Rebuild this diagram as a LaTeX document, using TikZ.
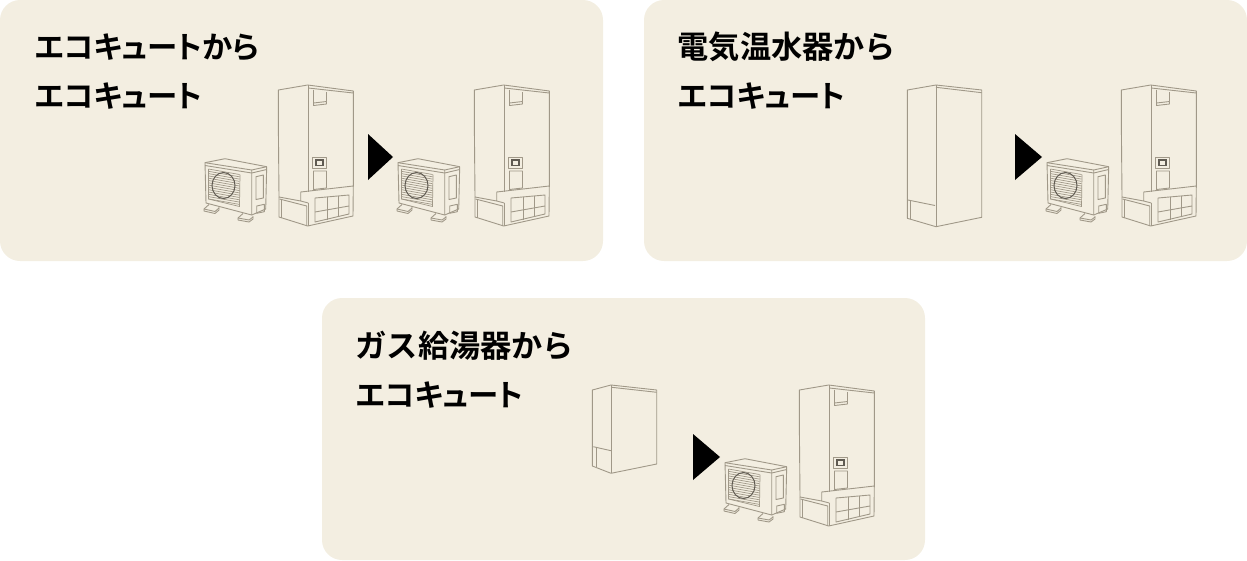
\documentclass[tikz,border=0pt]{standalone}
\usepackage{fontspec}
\newfontfamily\jpk[RawFeature=+palt]{Noto Sans CJK JP Bold}
\newfontfamily\jpw{Noto Sans CJK JP Bold}
\definecolor{panel}{HTML}{F3EEE1}
\definecolor{ln}{HTML}{A09888}
\tikzset{
  panelbox/.style={fill=panel,draw=none,rounded corners=20pt},
  lbl/.style={anchor=base west,inner sep=0pt,font=\jpk\fontsize{30.4}{30}\selectfont,text=black},
  lblw/.style={anchor=base west,inner sep=0pt,font=\jpw\fontsize{31.2}{30}\selectfont,text=black},
  arrowtri/.style={fill=black,draw=none},
  art/.style={draw=ln,line width=0.9pt,line join=round},
  thin art/.style={draw=ln,line width=0.7pt},
  tankunit/.pic={
    \draw[art] (278.3,90) -- (307.7,85) -- (353.3,91) -- (353.3,186) -- (300.7,192) -- (300.7,201) -- (279,197) -- (278.3,120) -- cycle;
    \draw[art] (308.3,85) -- (308.3,192);
    \draw[art] (308.3,88) -- (353.3,93);
    \draw[art] (279,197) -- (279,217) -- (307.7,226) -- (353,216) -- (353.3,186);
    \draw[art] (279.5,199) -- (306.7,206) -- (306.7,225);
    \draw[art] (281.5,200) -- (281.5,218);
    \draw[art] (308.3,203) -- (308.3,226);
    \draw[art] (300.7,201) -- (308.3,203);
    % top hatch
    \draw[art] (313.5,90) -- (313.5,103) -- (326.5,101.5) -- (326.5,92);
    \draw[art] (313.5,103) -- (313.5,105.5) -- (326.5,104) -- (326.5,101.5);
    % panel
    \draw[art] (312.5,157) rectangle (326.5,168.5);
    \draw[line width=1.1pt,draw=ln!60!black] (316,160) rectangle (323,165.5);
    \draw[art] (313.5,171) -- (326.5,171) -- (326.5,188) -- (313.5,189.5) -- cycle;
    % lower grid
    \draw[art] (315,198) -- (349,195) -- (349,214) -- (315,222) -- cycle;
    \draw[art] (315,212) -- (349,206);
    \draw[art] (327,197) -- (327,219.5);
    \draw[art] (338.5,196) -- (338.5,217);
  },
  outdoor/.pic={
    \draw[art] (205,162.7) -- (225,158.7) -- (266.7,166.7) -- (265.7,209) -- (251.7,215) -- (206,203) -- cycle;
    \draw[art] (205,162.7) -- (251.7,170) -- (251.7,215);
    \draw[art] (251.7,170) -- (266.7,166.7);
    \draw[art] (205,165.5) -- (251.7,173) -- (266.7,169.5);
    \foreach \i in {0,...,13}{
      \draw[thin art] (208.5,{169+2.3*\i}) -- (239.5,{174.5+2.3*\i});
    }
    \draw[thin art] (208.5,169) -- (208.5,199) -- (239.5,206.5) -- (240,174.5);
    \draw[line width=1pt,draw=ln!60!black] (223.5,185.5) ellipse (11.5 and 13);
    \draw[art] (256,176.7) -- (263.3,175) -- (263.3,198) -- (256,199.5) -- cycle;
    \draw[art] (256.7,206) -- (264.3,204.3) -- (264.3,211.7) -- (256.7,213.3) -- cycle;
    \draw[art] (209,204.5) -- (204,209) -- (204,211) -- (215,213.5) -- (219,210) -- (219,207);
    \draw[art] (204,209) -- (215,211.5) -- (219,208);
    \draw[art] (243,213.5) -- (238,218) -- (238,220) -- (249,222) -- (253,219) -- (253,216);
    \draw[art] (238,218) -- (249,220) -- (253,217);
  }
}
\begin{document}
\begin{tikzpicture}[x=1pt,y=-1pt]
\useasboundingbox (0,0) rectangle (1247,560);
\path[panelbox] (0,0) rectangle (603,261);
\path[panelbox] (644,0) rectangle (1247,261);
\path[panelbox] (322,298) rectangle (925,560);

\node[lbl] (t1a) at (34.5,58) {エコキュートから};
\node[lbl] (t1b) at (34.5,107) {エコキュート};
\node[lblw] (t2a) at (677.5,58) {電気温水器から};
\node[lbl] (t2b) at (677.5,107) {エコキュート};
\node[lblw] (t3a) at (355.5,357) {ガス給湯器から};
\node[lbl] (t3b) at (355.5,406) {エコキュート};

% panel 1
\pic at (0,0) {outdoor};
\pic at (0,0) {tankunit};
\path[arrowtri] (368,134) -- (393,157) -- (368,180) -- cycle;
\pic at (193,0) {outdoor};
\pic at (196,0) {tankunit};

% panel 2
\draw[art] (907.3,90) -- (936,85) -- (981.7,90) -- (981.7,217.3) -- (936,226.7) -- (907.3,218.3) -- cycle;
\draw[art] (936,85) -- (936,226.7);
\draw[art] (936,87.3) -- (981.7,92.7);
\draw[art] (908,200) -- (935,205.5);
\draw[art] (910.7,200.7) -- (910.7,218.5);
\path[arrowtri] (1015,134) -- (1042,157) -- (1015,180) -- cycle;
\pic at (842,0) {outdoor};
\pic at (843,0) {tankunit};

% panel 3
\draw[art] (592.3,390) -- (611,385) -- (656.7,390) -- (656.7,464) -- (611,473.3) -- (592.3,466) -- cycle;
\draw[art] (611,385) -- (611,473.3);
\draw[art] (611.7,387.3) -- (656.7,392.3);
\draw[art] (593.3,446.7) -- (611,450.7);
\draw[art] (596,447.7) -- (596,467);
\path[arrowtri] (693,434) -- (720,457) -- (693,480) -- cycle;
\pic at (520,300) {outdoor};
\pic at (521,300) {tankunit};
\end{tikzpicture}
\end{document}
